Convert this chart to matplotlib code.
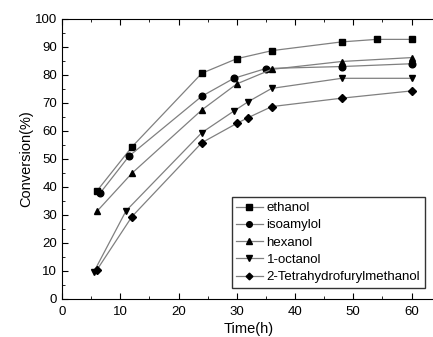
import matplotlib.pyplot as plt
from matplotlib.ticker import MultipleLocator

plt.rcParams['font.family'] = ['Liberation Sans', 'DejaVu Sans']

# datos
t_ethanol = [6, 12, 24, 30, 36.1, 48, 54, 60]
y_ethanol = [38.6, 54.3, 80.6, 85.8, 88.7, 91.8, 92.7, 92.7]

t_isoamylol = [6.5, 11.5, 24, 29.5, 35, 48, 60]
y_isoamylol = [37.7, 51.0, 72.4, 78.8, 82.3, 83.0, 84.0]

t_hexanol = [6, 12, 24, 30, 36, 48, 60]
y_hexanol = [31.3, 44.9, 67.5, 76.8, 82.0, 84.8, 86.2]

t_octanol = [5.5, 11, 24, 29.5, 32, 36, 48, 60]
y_octanol = [9.8, 31.5, 59.4, 67.1, 70.5, 75.2, 78.8, 78.8]

t_thfm = [6, 12, 24, 30, 32, 36, 48, 60]
y_thfm = [10.4, 29.4, 55.8, 62.7, 64.8, 68.7, 71.7, 74.3]

series = [
    (t_ethanol, y_ethanol, 's', 'ethanol'),
    (t_isoamylol, y_isoamylol, 'o', 'isoamylol'),
    (t_hexanol, y_hexanol, '^', 'hexanol'),
    (t_octanol, y_octanol, 'v', '1-octanol'),
    (t_thfm, y_thfm, 'D', '2-Tetrahydrofurylmethanol'),
]

fig = plt.figure(figsize=(4.33, 3.37), dpi=100)
ax = fig.add_axes([0.1432, 0.1128, 0.861, 0.831])

for t, y, m, lab in series:
    ms = 4.0 if m == 'D' else 4.8
    ax.plot(t, y, color='#808080', lw=0.9, marker=m, ms=ms,
            mfc='black', mec='black', label=lab)

ax.set_xlim(0, 64)
ax.set_ylim(0, 100)
ax.xaxis.set_major_locator(MultipleLocator(10))
ax.xaxis.set_minor_locator(MultipleLocator(5))
ax.yaxis.set_major_locator(MultipleLocator(10))
ax.yaxis.set_minor_locator(MultipleLocator(5))
ax.tick_params(which='both', direction='in', top=True, right=False, labelsize=9.5)
ax.tick_params(axis='x', pad=5)
ax.tick_params(which='major', length=4)
ax.tick_params(which='minor', length=2)
ax.spines['right'].set_visible(False)

ax.set_xlabel('Time(h)', fontsize=10.5, labelpad=3)
ax.set_ylabel('Conversion(%)', fontsize=10.5, labelpad=1)

leg = ax.legend(loc='lower left', bbox_to_anchor=(0.455, 0.04), fontsize=9.5,
                frameon=True, fancybox=False, edgecolor='black',
                handlelength=2.0, handletextpad=0.3, borderpad=0.35,
                labelspacing=0.38, borderaxespad=0, markerscale=0.85)
leg.get_frame().set_linewidth(1.0)

plt.savefig("out.png", dpi=100)
